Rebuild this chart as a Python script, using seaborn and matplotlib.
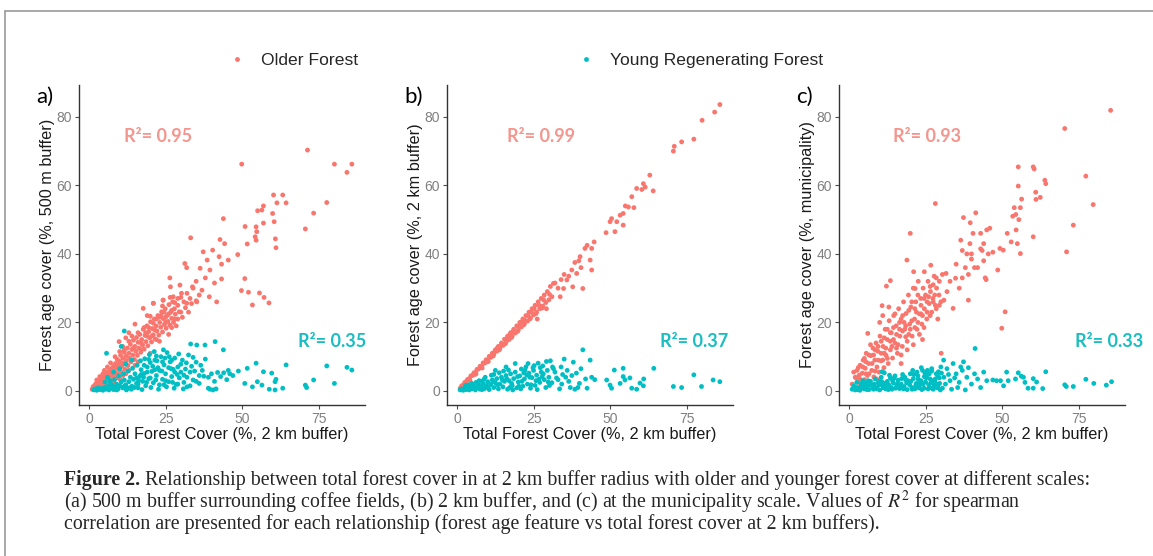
import matplotlib
matplotlib.use('Agg')
import matplotlib.pyplot as plt
from matplotlib.lines import Line2D
import pandas as pd
import seaborn as sns

# ---- data (x = total forest cover, y = forest age cover) ----
a_old = [
    (1.0, 0.5), (1.3, 1.2), (1.6, 0.8), (1.8, 1.6), (2.0, 1.0), (2.2, 2.1), (2.4, 1.4), (2.6, 0.7),
    (2.8, 2.5), (3.0, 1.8), (3.1, 3.0), (3.3, 1.1), (3.5, 2.4), (3.7, 3.4), (3.9, 1.6), (4.0, 2.9),
    (4.2, 4.0), (4.4, 2.1), (4.6, 3.5), (4.8, 1.3), (5.0, 4.4), (5.2, 2.7), (5.4, 3.8), (5.5, 5.3),
    (5.7, 2.2), (5.9, 4.6), (6.1, 3.3), (6.3, 5.6), (6.5, 4.0), (6.7, 2.6), (6.9, 6.1), (7.0, 4.9),
    (7.2, 3.5), (7.4, 6.6), (7.6, 5.4), (7.8, 4.2), (8.0, 7.3), (8.2, 6.0), (8.4, 3.7), (8.6, 8.0),
    (8.8, 5.1), (9.0, 6.8), (9.2, 9.2), (9.4, 4.6), (9.6, 7.7), (9.8, 6.0), (10.0, 8.6), (10.3, 10.4),
    (10.5, 5.5), (10.7, 7.2), (11.0, 9.5), (11.2, 8.1), (11.5, 11.3), (11.7, 6.3), (12.0, 10.1),
    (12.2, 8.8), (12.5, 12.5), (12.7, 7.4), (13.0, 11.0), (13.2, 9.6), (13.5, 13.6), (13.7, 8.5),
    (14.0, 12.1), (14.3, 10.5), (14.5, 14.8), (14.8, 9.2), (15.0, 13.0), (15.3, 11.6), (15.5, 15.6),
    (15.8, 10.4), (16.0, 14.2), (16.3, 12.5), (16.6, 16.5), (16.9, 11.3), (17.2, 15.0), (17.5, 13.4),
    (17.7, 18.0), (18.0, 12.2), (18.3, 16.2), (18.6, 14.4), (18.9, 19.0), (19.2, 13.2), (19.5, 17.3),
    (19.8, 15.5), (20.1, 20.2), (20.4, 14.3), (20.7, 18.2), (21.0, 16.4), (21.3, 21.0), (21.6, 15.2),
    (21.9, 19.0), (22.2, 17.5), (22.5, 22.0), (22.8, 16.3), (23.1, 20.0), (23.4, 18.6), (23.7, 23.1),
    (24.0, 17.2), (24.3, 21.1), (24.6, 19.4), (24.9, 24.0), (25.2, 18.3), (25.5, 22.0), (25.8, 20.3),
    (26.1, 25.2), (26.4, 19.2), (26.7, 23.0), (27.0, 21.2), (27.3, 26.0), (27.6, 20.0), (27.9, 24.0),
    (28.2, 22.4), (28.5, 19.0), (29.0, 25.0), (29.5, 23.1), (30.0, 27.3), (30.5, 21.5), (31.0, 26.0),
    (31.5, 24.3), (32.0, 28.5), (32.5, 23.0), (33.0, 27.0), (33.5, 25.5), (34.0, 30.0), (35.0, 26.3),
    (36.0, 28.0), (9.8, 14.4), (11.0, 13.0), (13.0, 17.0), (15.0, 19.5), (17.7, 24.1), (19.0, 22.0),
    (21.0, 25.6), (24.2, 26.5), (12.0, 15.5), (14.0, 16.0), (6.0, 1.5), (8.0, 2.5), (10.0, 3.5),
    (12.0, 5.0), (3.0, 0.6), (5.0, 0.9), (16.0, 8.5), (20.0, 11.0), (23.0, 14.5), (26.0, 16.5),
    (22.0, 21.0), (25.0, 21.5), (27.0, 23.5), (28.0, 21.0), (29.0, 27.0), (18.5, 17.0), (20.5, 16.0),
    (23.5, 22.0), (26.5, 27.3), (24.5, 23.0), (17.0, 12.0), (19.5, 18.5), (21.5, 17.8),
    (3.5, 4.2), (4.5, 5.0), (6.0, 7.0), (7.0, 8.2), (8.5, 10.0), (10.0, 11.5), (11.5, 12.0),
    (13.0, 14.5), (14.5, 12.5), (16.0, 17.0), (17.0, 14.0), (18.0, 18.5), (19.0, 16.0), (20.0, 21.8),
    (21.0, 19.8), (22.0, 15.0), (23.0, 21.5), (24.0, 24.8), (25.0, 20.0), (26.0, 22.5), (27.0, 18.5),
    (28.0, 25.8), (29.0, 21.0), (30.0, 23.0), (6.5, 2.0), (7.5, 3.0), (9.0, 3.8), (11.0, 4.5),
    (13.0, 6.0), (15.0, 7.5), (2.5, 3.2), (5.0, 6.0),
    (71.4, 70.3), (49.9, 66.2), (80.2, 66.2), (85.9, 66.2), (84.3, 63.8), (60.3, 57.2), (63.3, 57.2),
    (61.4, 54.9), (64.4, 54.9), (77.7, 55.0), (73.4, 51.9), (70.7, 47.3), (57.0, 54.0), (56.5, 52.8),
    (55.1, 52.6), (60.0, 51.8), (60.5, 49.4), (57.0, 49.0), (54.6, 47.9), (54.8, 46.5), (54.3, 45.0),
    (54.6, 44.0), (51.0, 48.0), (51.7, 42.9), (60.9, 44.4), (61.1, 41.8), (48.6, 39.8), (43.9, 50.3),
    (42.8, 44.2), (44.3, 43.0), (45.5, 38.2), (40.4, 41.1), (42.5, 39.2), (37.3, 40.6), (38.6, 38.2),
    (33.2, 44.7), (50.9, 32.8), (49.8, 29.3), (52.1, 28.8), (53.4, 25.1), (55.7, 28.6), (57.2, 27.3),
    (58.8, 25.7), (43.3, 37.0), (43.3, 32.7), (39.5, 35.3), (36.3, 35.8), (31.3, 37.2), (31.9, 36.0),
    (26.4, 33.0), (26.6, 30.4), (29.7, 30.9), (33.8, 30.4), (36.9, 29.4), (39.3, 27.5), (41.7, 26.0),
    (35.2, 26.0), (31.9, 25.6), (30.2, 28.5), (27.5, 27.5), (24.2, 26.5), (21.0, 25.6), (38.0, 33.0),
    (41.0, 31.5), (35.0, 32.0),
]
a_young = [
    (1.5, 0.3), (2.0, 0.6), (2.5, 0.2), (3.0, 0.9), (3.5, 0.4), (4.0, 0.7), (4.5, 0.2), (5.0, 1.0),
    (5.5, 0.5), (6.0, 1.3), (6.5, 0.3), (7.0, 0.8), (7.5, 1.6), (8.0, 0.4), (8.5, 1.1), (9.0, 2.0),
    (9.5, 0.6), (10.0, 1.5), (10.5, 2.6), (11.0, 0.9), (11.5, 3.2), (12.0, 1.8), (12.5, 0.7),
    (13.0, 2.7), (13.5, 4.0), (14.0, 1.4), (14.5, 3.4), (15.0, 5.0), (15.5, 2.2), (16.0, 0.9),
    (16.5, 4.2), (17.0, 6.2), (17.5, 2.8), (18.0, 5.1), (18.5, 1.5), (19.0, 7.0), (19.5, 3.6),
    (20.0, 8.3), (20.5, 5.7), (21.0, 2.4), (21.5, 9.0), (22.0, 4.5), (22.5, 6.8), (23.0, 1.8),
    (23.5, 10.0), (24.0, 3.4), (24.5, 7.6), (25.0, 5.0), (25.5, 11.2), (26.0, 2.7), (26.5, 8.5),
    (27.0, 4.2), (27.5, 6.3), (28.0, 9.6), (28.5, 1.9), (29.0, 7.0), (29.5, 3.8), (30.0, 5.5),
    (30.5, 9.0), (31.0, 2.5), (31.5, 6.4), (32.0, 4.0), (32.5, 10.5), (33.0, 1.5), (33.5, 7.2),
    (34.0, 3.2), (34.5, 5.8), (35.0, 8.4), (36.0, 2.2), (37.0, 6.0), (37.5, 4.3), (38.0, 9.3),
    (39.0, 0.8), (40.0, 5.0), (40.5, 0.3), (41.0, 2.8), (42.0, 5.4), (43.0, 4.2), (44.0, 5.3),
    (45.0, 3.3), (46.0, 5.0), (39.5, 0.5), (41.5, 0.6),
    (5.2, 2.6), (6.8, 3.0), (8.3, 3.3), (9.7, 4.4), (11.3, 5.0), (12.8, 5.8), (14.2, 6.6),
    (15.7, 7.5), (16.8, 8.8), (18.2, 9.4), (19.7, 10.6), (21.3, 11.5), (22.7, 0.5), (24.3, 12.0),
    (26.2, 10.0), (27.8, 0.8), (29.3, 10.8), (30.8, 0.6), (12.2, 0.3), (17.3, 0.4), (20.2, 1.0),
    (25.3, 1.2), (14.8, 1.0), (5.7, 11.0), (10.5, 13.0), (11.5, 17.5), (7.0, 2.2), (9.0, 0.3),
    (13.8, 0.5), (16.2, 3.0), (18.8, 2.5), (21.8, 3.2), (23.8, 5.8), (26.8, 6.5), (28.8, 4.8),
    (31.8, 8.2), (20.8, 7.2), (22.2, 8.8), (24.8, 9.6), (27.3, 2.5), (17.8, 4.0), (19.0, 5.5),
    (6.0, 4.0), (8.0, 5.5), (10.0, 6.5), (12.0, 7.8), (14.0, 9.0), (16.0, 2.0), (18.0, 7.5),
    (20.0, 3.8), (22.0, 10.2), (23.0, 6.0), (24.0, 8.5), (25.0, 3.0), (26.0, 6.8), (27.0, 9.0),
    (28.0, 5.5), (29.0, 2.0), (30.0, 7.8), (31.0, 4.6), (32.0, 1.2), (33.0, 5.5), (34.0, 9.8),
    (35.0, 2.8), (36.0, 4.5), (24.5, 1.8), (21.5, 6.2), (19.5, 9.2), (17.0, 4.8), (15.5, 3.8),
    (13.0, 0.9), (11.5, 1.4),
    (33.2, 13.7), (35.2, 13.4), (37.9, 13.4), (41.2, 14.4), (43.9, 12.0),
    (85.9, 6.1), (84.3, 6.9), (77.7, 7.3), (80.2, 2.2), (73.4, 3.2), (70.7, 1.7), (71.1, 1.0),
    (64.4, 7.6), (63.3, 0.8), (60.8, 2.7), (61.1, 3.4), (59.7, 5.2), (54.6, 8.1), (57.0, 5.6),
    (56.5, 1.7), (55.0, 2.7), (53.4, 1.2), (58.9, 0.5), (60.8, 0.3), (51.7, 6.6), (48.8, 5.8),
    (50.9, 2.2), (39.0, 4.0), (47.0, 4.5), (45.5, 6.0), (36.5, 7.5),
]
b_old = [
    (1.0, 0.8), (1.5, 1.5), (2.0, 1.7), (2.5, 2.5), (3.0, 2.6), (3.5, 3.4), (4.0, 3.6), (4.5, 4.4),
    (5.0, 4.5), (5.5, 5.3), (6.0, 5.4), (6.5, 6.3), (7.0, 6.4), (7.5, 7.2), (8.0, 7.2), (8.5, 8.2),
    (9.0, 8.1), (9.5, 9.1), (10.0, 9.0), (10.5, 10.1), (11.0, 9.8), (11.5, 11.0), (12.0, 10.7),
    (12.5, 12.0), (13.0, 11.6), (13.5, 13.0), (14.0, 12.4), (14.5, 14.0), (15.0, 13.3), (15.5, 15.1),
    (16.0, 14.2), (16.5, 16.0), (17.0, 15.0), (17.5, 17.0), (18.0, 16.0), (18.5, 18.0), (19.0, 16.9),
    (19.5, 19.0), (20.0, 17.8), (20.5, 20.0), (21.0, 18.7), (21.5, 21.0), (22.0, 19.6), (22.5, 22.0),
    (23.0, 20.4), (23.5, 23.0), (24.0, 21.3), (24.5, 24.0), (25.0, 22.2), (25.5, 25.0), (26.0, 23.0),
    (26.5, 26.0), (27.0, 24.0), (27.5, 27.0), (28.0, 24.8), (28.5, 28.0), (29.0, 25.8), (29.5, 29.0),
    (30.0, 26.6), (30.5, 30.5), (31.0, 27.5), (32.0, 31.5), (33.0, 30.0),
    (3.2, 3.0), (5.8, 4.8), (7.8, 6.9), (9.8, 8.5), (11.8, 10.2), (13.8, 12.0), (15.8, 13.8),
    (17.8, 15.6), (19.8, 17.4), (21.8, 19.3), (23.8, 21.0), (25.8, 22.6), (27.8, 24.2), (12.3, 11.5),
    (16.3, 15.2), (20.3, 19.0), (24.3, 23.0), (28.3, 26.6), (26.2, 21.0), (29.2, 24.0), (2.2, 1.4),
    (4.2, 3.2), (6.2, 5.0), (8.2, 6.7), (10.2, 8.6), (14.2, 13.2), (18.2, 17.2), (22.2, 20.6),
    (26.8, 25.0), (30.2, 28.2), (13.2, 12.6), (17.2, 16.4), (21.2, 20.2), (25.2, 24.0), (23.2, 22.0),
    (85.9, 83.6), (84.2, 81.4), (80.1, 79.0), (77.4, 73.5), (73.4, 72.7), (71.0, 71.4), (70.7, 70.0),
    (63.0, 63.0), (64.1, 58.4), (60.9, 60.5), (60.4, 58.8), (58.7, 59.1), (57.1, 56.7), (56.0, 53.7),
    (54.3, 51.8), (53.3, 51.3), (52.2, 49.4), (50.5, 50.3), (50.0, 49.4), (48.7, 46.2), (51.6, 46.5),
    (54.3, 48.4), (44.8, 43.5), (44.0, 41.6), (41.8, 41.6), (40.2, 39.2), (43.5, 38.2), (44.0, 35.3),
    (41.1, 29.9), (39.1, 34.3), (37.5, 35.3), (35.9, 32.4), (37.8, 30.4), (34.8, 29.9), (33.7, 27.5),
    (31.5, 31.4), (38.5, 37.5), (40.5, 36.0), (36.5, 33.5), (39.8, 38.0), (42.5, 42.5), (55.0, 54.0),
    (61.5, 59.5), (57.8, 53.5), (34.0, 32.5), (35.0, 34.0),
]
b_young = [
    (1.0, 0.3), (1.5, 0.6), (2.0, 0.2), (2.5, 0.8), (3.0, 0.4), (3.5, 1.0), (4.0, 0.3), (4.5, 1.2),
    (5.0, 0.6), (5.5, 1.5), (6.0, 0.3), (6.5, 1.0), (7.0, 1.8), (7.5, 0.5), (8.0, 1.3), (8.5, 2.2),
    (9.0, 0.7), (9.5, 1.6), (10.0, 2.7), (10.5, 0.4), (11.0, 1.9), (11.5, 3.2), (12.0, 1.0),
    (12.5, 2.4), (13.0, 3.6), (13.5, 0.6), (14.0, 2.0), (14.5, 4.0), (15.0, 1.2), (15.5, 2.8),
    (16.0, 4.5), (16.5, 0.5), (17.0, 3.0), (17.5, 5.0), (18.0, 1.6), (18.5, 3.6), (19.0, 5.5),
    (19.5, 0.9), (20.0, 2.6), (20.5, 4.4), (21.0, 6.4), (21.5, 1.4), (22.0, 3.5), (22.5, 7.0),
    (23.0, 2.0), (23.5, 5.2), (24.0, 0.8), (24.5, 3.9), (25.0, 6.0), (25.5, 1.6), (26.0, 4.6),
    (26.5, 8.1), (27.0, 2.5), (27.5, 5.5), (28.0, 7.3), (28.5, 3.3), (29.0, 1.0), (29.5, 6.0),
    (30.0, 4.0), (30.5, 8.8), (31.0, 2.4), (32.0, 5.5), (33.0, 3.3), (34.0, 7.0), (35.0, 9.3),
    (35.5, 4.0), (36.0, 6.0), (37.0, 1.0), (37.5, 4.5), (38.0, 8.4), (38.5, 0.5), (39.0, 5.2),
    (40.0, 2.2), (40.5, 6.5), (41.1, 12.0), (42.0, 3.5), (43.5, 9.0), (44.0, 4.0), (45.0, 3.3),
    (12.5, 6.0), (16.0, 7.0), (19.0, 8.0), (6.2, 2.5), (8.8, 3.4), (11.2, 4.6), (13.8, 5.3),
    (16.8, 6.1), (18.2, 0.3), (21.8, 5.3), (23.2, 8.0), (24.8, 6.8), (26.2, 0.4), (27.8, 4.2),
    (29.2, 8.6), (31.5, 6.5), (33.5, 0.6), (3.8, 1.8), (5.8, 0.9), (7.8, 2.8), (10.2, 1.2),
    (14.8, 3.2), (17.8, 2.2), (20.2, 1.4), (22.8, 4.6), (25.8, 3.0), (27.2, 6.8), (30.2, 1.6),
    (36.5, 2.8), (39.5, 1.0), (42.5, 0.8), (34.5, 4.8),
    (2.8, 1.6), (4.8, 2.2), (7.2, 3.0), (9.2, 4.0), (12.0, 4.8), (13.2, 1.8), (15.2, 5.8),
    (17.2, 1.0), (19.8, 4.2), (21.2, 2.8), (22.2, 6.0), (24.2, 1.8), (25.2, 7.4), (26.8, 3.4),
    (28.2, 5.0), (29.8, 2.6), (31.2, 7.0), (32.5, 3.8), (34.2, 2.0), (23.8, 4.0), (20.8, 0.6),
    (16.2, 3.6), (11.8, 2.8), (8.2, 0.4),
    (83.7, 3.2), (85.9, 2.7), (79.9, 1.3), (77.4, 4.7), (73.4, 1.0), (70.7, 1.3), (64.3, 6.6),
    (59.8, 2.3), (60.9, 1.5), (58.7, 0.5), (57.1, 0.8), (54.3, 4.2), (53.3, 2.2), (54.9, 3.2),
    (51.4, 6.1), (54.3, 6.6), (50.0, 1.7), (48.9, 3.2), (50.5, 0.8), (56.5, 3.8), (61.0, 3.5),
]
c_old = [
    (1.0, 2.0), (1.5, 5.5), (2.0, 1.0), (2.3, 3.8), (2.6, 6.0), (3.0, 2.5), (3.3, 4.6), (3.6, 7.5),
    (4.0, 1.8), (4.3, 5.2), (4.6, 9.0), (5.0, 3.3), (5.3, 6.6), (5.6, 11.0), (6.0, 4.5), (6.1, 16.8),
    (6.4, 8.0), (6.8, 2.8), (7.1, 10.3), (7.4, 6.0), (7.8, 12.5), (8.1, 4.1), (8.4, 9.0), (8.8, 14.0),
    (9.1, 7.0), (9.4, 11.6), (9.8, 5.5), (10.1, 16.0), (10.4, 8.8), (10.8, 24.9), (11.1, 13.0),
    (11.4, 6.8), (11.8, 18.0), (12.1, 10.4), (12.2, 30.6), (12.5, 15.0), (12.8, 8.0), (13.1, 20.5),
    (13.5, 32.2), (13.5, 12.0), (13.8, 17.0), (14.2, 9.6), (14.6, 22.0), (15.0, 14.0), (15.4, 19.0),
    (15.8, 11.0), (16.2, 24.0), (16.6, 16.0), (17.0, 21.0), (17.4, 13.0), (17.8, 26.0), (18.2, 18.0),
    (18.6, 22.6), (18.9, 38.2), (19.0, 14.5), (19.4, 28.0), (20.0, 46.0), (19.8, 19.5), (20.2, 24.5),
    (20.6, 16.0), (21.0, 30.0), (21.1, 34.8), (21.4, 21.0), (21.6, 29.9), (21.8, 26.0), (22.2, 18.0),
    (22.6, 32.0), (23.0, 22.5), (23.4, 27.0), (23.8, 19.5), (24.2, 30.0), (24.6, 34.8), (24.6, 24.0),
    (25.0, 28.0), (25.4, 21.0), (25.8, 32.0), (26.2, 25.5), (26.7, 36.7), (26.6, 29.0), (27.0, 23.0),
    (27.4, 27.0), (27.8, 33.5), (28.2, 54.7), (28.2, 25.0), (28.6, 30.0), (29.0, 21.0), (29.4, 28.0),
    (30.1, 11.0), (30.0, 26.0), (30.5, 34.0), (31.0, 26.5), (31.7, 34.3), (32.0, 29.0), (33.0, 32.0),
    (34.0, 24.1), (34.8, 32.9), (35.0, 37.0), (36.0, 30.0), (37.4, 50.6), (37.0, 33.0), (38.0, 36.0),
    (39.0, 26.5), (39.6, 49.1), (40.0, 40.0), (41.4, 52.0), (42.0, 36.0), (43.0, 46.0), (43.5, 41.0),
    (44.0, 43.0), (45.0, 47.0), (45.5, 40.0), (44.5, 33.0),
    (5.5, 8.5), (7.0, 13.5), (8.5, 5.8), (9.5, 13.0), (10.5, 11.0), (11.5, 15.5), (12.5, 18.0),
    (13.5, 14.5), (14.5, 18.5), (15.5, 16.5), (16.5, 20.0), (17.5, 17.5), (18.5, 15.8), (19.5, 23.5),
    (20.5, 20.5), (21.5, 24.0), (22.5, 20.0), (23.5, 25.0), (24.5, 18.5), (25.5, 26.0), (26.5, 22.0),
    (27.5, 31.0), (28.5, 24.0), (29.5, 32.0), (2.0, 4.0), (3.0, 6.8), (4.0, 3.0), (5.0, 9.5),
    (6.5, 5.0), (8.0, 10.5), (9.0, 3.5), (11.0, 9.0), (12.0, 12.5), (14.0, 13.0), (16.0, 13.5),
    (18.0, 20.0), (20.0, 18.0), (22.0, 23.0), (24.0, 22.0), (26.0, 27.5), (28.0, 28.0), (17.0, 10.5),
    (19.0, 12.0), (23.0, 16.5), (15.0, 22.5), (13.0, 24.5), (10.0, 20.0), (11.0, 22.0),
    (3.5, 3.5), (4.5, 7.0), (5.5, 5.0), (6.5, 10.5), (7.5, 8.0), (8.5, 12.0), (9.5, 9.0),
    (10.5, 14.5), (11.5, 11.0), (12.5, 9.5), (13.5, 17.0), (14.5, 15.0), (15.5, 12.5), (16.5, 18.0),
    (17.5, 22.0), (18.5, 19.0), (19.5, 16.5), (20.5, 26.0), (21.5, 18.5), (22.5, 28.0), (23.5, 22.5),
    (24.5, 27.0), (25.5, 23.0), (26.5, 30.5), (27.5, 26.0), (28.5, 33.0), (29.5, 25.0), (21.0, 13.5),
    (17.0, 8.0), (24.0, 15.0),
    (85.5, 81.9), (70.5, 76.6), (77.4, 62.7), (79.8, 54.4), (73.3, 48.4), (71.1, 40.6), (60.2, 65.4),
    (60.5, 64.8), (55.3, 65.4), (55.3, 59.8), (64.0, 61.5), (64.3, 60.5), (61.0, 58.0), (62.5, 56.5),
    (61.1, 55.9), (60.2, 45.0), (56.4, 56.0), (56.0, 53.5), (54.0, 53.5), (54.5, 51.5), (53.5, 51.0),
    (55.5, 50.0), (54.6, 47.0), (55.0, 43.0), (53.0, 43.5), (56.0, 40.1), (51.7, 46.0), (49.3, 41.6),
    (50.4, 41.1), (48.6, 35.3), (51.0, 23.1), (49.9, 18.3), (46.0, 47.5), (47.0, 40.5), (44.0, 38.0),
    (43.0, 41.5), (40.5, 46.0), (39.5, 43.0), (38.5, 40.0), (37.0, 41.0), (41.0, 36.0), (39.0, 34.0),
    (36.5, 44.0), (40.0, 38.5), (44.8, 32.5),
]
c_young = [
    (1.0, 0.5), (1.5, 1.5), (2.0, 0.3), (2.5, 2.5), (3.0, 1.0), (3.5, 0.2), (4.0, 1.8), (4.5, 3.0),
    (5.0, 0.6), (5.5, 2.2), (6.0, 1.2), (6.5, 0.4), (7.0, 2.8), (7.5, 1.6), (8.0, 0.5), (8.5, 3.5),
    (9.0, 1.0), (9.5, 2.4), (10.0, 0.3), (10.5, 4.0), (11.0, 1.5), (11.5, 5.3), (12.0, 0.6),
    (12.5, 2.8), (13.0, 1.8), (13.5, 3.8), (14.0, 0.5), (14.5, 2.3), (15.0, 4.4), (15.5, 1.2),
    (16.0, 3.1), (16.5, 0.7), (17.0, 2.0), (17.5, 4.8), (18.0, 1.3), (18.5, 3.3), (19.0, 0.4),
    (19.5, 2.5), (20.0, 5.0), (20.5, 1.0), (21.0, 3.6), (21.5, 0.6), (22.0, 2.2), (22.5, 4.4),
    (23.0, 1.4), (23.5, 3.0), (24.0, 6.0), (24.5, 0.8), (25.0, 2.6), (25.5, 4.6), (26.0, 1.8),
    (26.5, 3.5), (27.0, 6.5), (27.5, 0.5), (28.0, 2.8), (28.5, 5.0), (29.0, 1.4), (29.5, 3.8),
    (30.0, 7.0), (30.5, 0.8), (31.0, 4.0), (31.5, 2.0), (32.0, 6.5), (30.9, 9.0), (33.0, 3.0),
    (33.5, 0.5), (34.0, 8.0), (35.0, 5.0), (36.0, 2.5), (37.0, 6.0), (37.4, 8.5), (38.0, 0.3),
    (38.5, 4.0), (39.0, 6.8), (40.0, 2.0), (41.2, 12.4), (41.0, 5.0), (42.0, 3.5), (43.0, 1.0),
    (44.0, 5.5), (45.0, 3.0),
    (2.2, 1.0), (3.8, 0.6), (5.8, 0.4), (7.8, 0.9), (9.8, 1.8), (11.8, 2.2), (13.8, 1.0),
    (15.8, 2.0), (17.8, 0.6), (19.8, 1.8), (21.8, 1.6), (23.8, 0.4), (25.8, 0.6), (27.8, 1.6),
    (29.8, 0.3), (8.2, 2.0), (12.2, 1.2), (16.2, 1.7), (20.2, 2.8), (24.2, 2.0), (28.2, 3.5),
    (6.2, 3.0), (10.2, 3.0), (14.2, 3.0), (18.2, 4.0), (22.2, 5.5), (26.2, 5.0), (27.0, 5.8),
    (1.8, 0.8), (4.8, 1.4), (9.2, 0.6), (11.2, 0.9), (15.2, 0.8), (19.2, 3.0), (21.2, 4.8),
    (23.2, 2.4), (25.2, 3.8), (27.2, 3.0), (29.2, 5.6), (28.8, 0.9), (26.8, 2.4), (13.2, 4.6),
    (10.8, 5.6), (17.2, 3.6), (20.8, 6.0), (22.8, 0.9), (24.8, 5.2), (29.6, 2.2),
    (2.8, 0.4), (4.2, 2.2), (6.8, 1.8), (8.8, 0.8), (10.8, 2.6), (12.8, 0.4), (14.8, 3.8),
    (16.8, 1.2), (18.8, 2.4), (20.6, 0.5), (22.6, 3.4), (24.6, 4.2), (26.6, 0.9), (28.6, 2.0),
    (23.6, 6.8), (25.6, 6.0), (29.0, 4.4), (30.2, 5.2),
    (85.8, 2.7), (84.1, 1.7), (80.0, 2.2), (77.4, 3.4), (73.3, 1.3), (71.0, 1.3), (70.5, 1.8),
    (64.3, 5.6), (63.3, 0.7), (60.2, 3.6), (61.3, 2.6), (60.2, 0.8), (58.5, 0.8), (57.0, 4.0),
    (55.3, 5.3), (56.3, 4.3), (57.5, 2.5), (54.4, 3.5), (51.5, 5.5), (52.0, 3.0), (50.5, 1.5),
    (49.5, 3.0), (48.2, 3.0), (47.0, 3.2), (36.5, 7.0), (34.5, 3.8), (35.5, 1.0), (32.5, 4.8),
]

panel_letters = ['a)', 'b)', 'c)']
y_labels = ['Forest age cover (%, 500 m buffer)',
            'Forest age cover (%, 2 km buffer)',
            'Forest age cover (%, municipality)']
x_label = 'Total Forest Cover (%, 2 km buffer)'
r2_old = ['0.95', '0.99', '0.93']
r2_young = ['0.35', '0.37', '0.33']
series_names = ['Older Forest', 'Young Regenerating Forest']

RED = '#F8766D'
CYAN = '#00BFC4'


def make_frame(old, young):
    d_old = pd.DataFrame(old, columns=['total', 'age'])
    d_old['type'] = series_names[0]
    d_young = pd.DataFrame(young, columns=['total', 'age'])
    d_young['type'] = series_names[1]
    return pd.concat([d_old, d_young], ignore_index=True)


frames = [make_frame(a_old, a_young), make_frame(b_old, b_young), make_frame(c_old, c_young)]

sns.set_style('white')
plt.rcParams['font.family'] = ['Liberation Sans', 'DejaVu Sans']
plt.rcParams['mathtext.fontset'] = 'stix'

fig = plt.figure(figsize=(11.53, 5.56), dpi=100)

lefts = [79, 447, 839]
r2_x_old = [11.4, 16.4, 14.4]
r2_x_young = [68.3, 66.2, 73.8]

handles = None
for i, df in enumerate(frames):
    ax = fig.add_axes([lefts[i] / 1153, 1 - 405 / 556, 286 / 1153, 320 / 556])
    sns.scatterplot(data=df, x='total', y='age', hue='type', hue_order=series_names,
                    palette=[RED, CYAN], s=12, linewidth=0, ax=ax, legend=(i == 0))
    if i == 0:
        handles, labels = ax.get_legend_handles_labels()
        ax.get_legend().remove()
    ax.set_xlim(-3.3, 90.2)
    ax.set_ylim(-4.1, 89.3)
    ax.set_xticks([0, 25, 50, 75])
    ax.set_yticks([0, 20, 40, 60, 80])
    ax.tick_params(axis='both', colors='#4d4d4d', labelcolor='#808080', labelsize=10,
                   length=3, width=0.8, bottom=True, left=True, pad=2)
    for side in ['top', 'right']:
        ax.spines[side].set_visible(False)
    for side in ['left', 'bottom']:
        ax.spines[side].set_color('#333333')
        ax.spines[side].set_linewidth(1.0)
    ax.set_xlabel(x_label, fontsize=11.7, color='#1a1a1a', labelpad=1)
    ax.set_ylabel(y_labels[i], fontsize=11.7, color='#1a1a1a', labelpad=1)

    ax.text(r2_x_old[i], 74.3, 'R\u00b2= ' + r2_old[i], color='#F4958E', fontsize=13,
            fontweight='bold', family='Lato', va='center', ha='left')
    ax.text(r2_x_young[i], 14.3, 'R\u00b2= ' + r2_young[i], color='#19BDC2', fontsize=13,
            fontweight='bold', family='Lato', va='center', ha='left', clip_on=False)

    fig.text((lefts[i] - 43) / 1153, 1 - 97 / 556, panel_letters[i], fontsize=16,
             family='Lato', va='center', ha='left', color='black')

# legend across the top
fig.legend(handles, series_names, loc='center left', bbox_to_anchor=(214 / 1153, 1 - 60 / 556),
           ncol=2, frameon=False, fontsize=12.6, handlelength=0.8, handletextpad=1.0,
           columnspacing=12.6, markerscale=1.0)

# page frame lines
fig.add_artist(Line2D([5 / 1153, 1], [1 - 11 / 556, 1 - 11 / 556], color='#9a9a9a', lw=1.2))
fig.add_artist(Line2D([5 / 1153, 5 / 1153], [0, 1 - 11 / 556], color='#9a9a9a', lw=1.2))

# caption
cap_fs = 14.3
t1 = fig.text(64 / 1153, 1 - 480 / 556, 'Figure 2.', fontsize=cap_fs, fontweight='bold',
              family='Liberation Serif', va='center', ha='left')
plt.annotate(' Relationship between total forest cover in at 2 km buffer radius with older and '
             'younger forest cover at different scales:', xy=(1, 0), xycoords=t1,
             fontsize=cap_fs, family='Liberation Serif', ha='left', va='bottom',
             annotation_clip=False)
fig.text(64 / 1153, 1 - 502 / 556,
         '(a) 500 m buffer surrounding coffee fields, (b) 2 km buffer, and (c) at the municipality '
         'scale. Values of $R^2$ for spearman', fontsize=cap_fs, family='Liberation Serif',
         va='center', ha='left')
fig.text(64 / 1153, 1 - 524 / 556,
         'correlation are presented for each relationship (forest age feature vs total forest '
         'cover at 2 km buffers).', fontsize=cap_fs, family='Liberation Serif',
         va='center', ha='left')

fig.savefig('out.png', dpi=100, facecolor='white')
